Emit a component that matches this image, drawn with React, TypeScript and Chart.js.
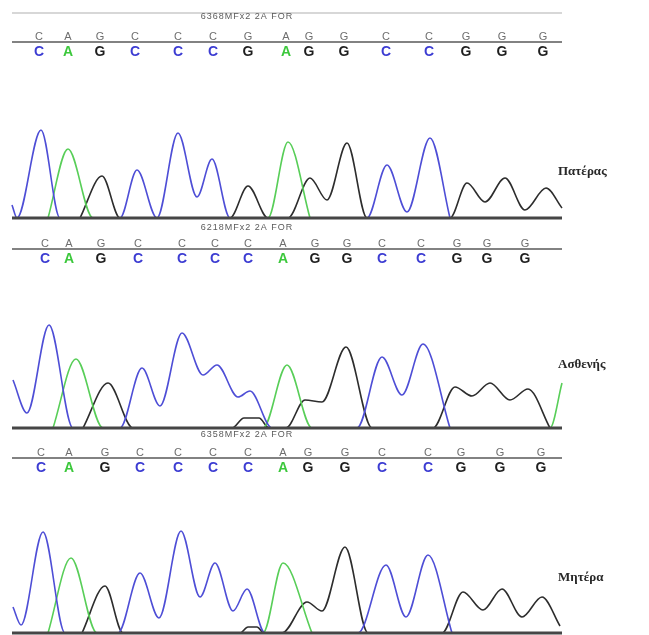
import React, { useEffect, useRef } from "react";
import { Chart, registerables } from "chart.js";

Chart.register(...registerables);

// ---- Base calls (letters) and their scan positions ----
const BASES_1 = ["C", "A", "G", "C", "C", "C", "G", "A", "G", "G", "C", "C", "G", "G", "G"];
const BASE_POS_1 = [39, 68, 100, 135, 178, 213, 248, 286, 309, 344, 386, 429, 466, 502, 543];
const BASES_2 = ["C", "A", "G", "C", "C", "C", "C", "A", "G", "G", "C", "C", "G", "G", "G"];
const BASE_POS_2 = [45, 69, 101, 138, 182, 215, 248, 283, 315, 347, 382, 421, 457, 487, 525];
const BASES_3 = ["C", "A", "G", "C", "C", "C", "C", "A", "G", "G", "C", "C", "G", "G", "G"];
const BASE_POS_3 = [41, 69, 105, 140, 178, 213, 248, 283, 308, 345, 382, 428, 461, 500, 541];

const TITLES = ["6368MFx2 2A FOR", "6218MFx2 2A FOR", "6358MFx2 2A FOR"];
const LABELS = ["Πατέρας", "Ασθενής", "Μητέρα"];

// ---- Trace signals: [scan, intensity] at peaks / troughs ----
const P1_BLUE: [number, number][] = [
  [12, 13], [17, 0], [41, 88], [60, 0], [120, 0], [137, 48], [157, 0], [178, 85], [197, 21],
  [212, 59], [230, 0], [367, 0], [387, 53], [407, 6], [430, 80], [450, 0],
];
const P1_GREEN: [number, number][] = [
  [48, 0], [68, 69], [93, 0], [268, 0], [288, 76], [310, 0],
];
const P1_BLACK: [number, number][] = [
  [80, 0], [102, 42], [120, 0], [230, 0], [248, 32], [268, 0], [288, 0], [310, 40], [327, 18],
  [347, 75], [367, 0], [450, 0], [467, 35], [485, 16], [505, 40], [525, 8], [546, 30], [562, 10],
];

const P2_BLUE: [number, number][] = [
  [13, 48], [27, 15], [49, 103], [73, 0], [120, 0], [142, 60], [160, 22], [182, 95], [203, 53],
  [217, 63], [238, 31], [250, 37], [272, 0], [357, 0], [382, 71], [402, 33], [423, 84], [450, 0],
];
const P2_GREEN: [number, number][] = [
  [53, 0], [76, 69], [103, 0], [263, 0], [287, 63], [312, 0], [550, 0], [562, 45],
];
const P2_BLACK: [number, number][] = [
  [83, 0], [108, 45], [133, 0], [232, 0], [244, 10], [259, 10], [269, 0], [286, 0], [305, 28],
  [322, 26], [346, 81], [372, 0], [433, 0], [455, 41], [472, 32], [490, 45], [510, 28], [528, 39],
  [550, 0],
];

const P3_BLUE: [number, number][] = [
  [13, 26], [21, 8], [43, 101], [65, 0], [118, 0], [140, 60], [159, 15], [181, 102], [200, 36],
  [215, 70], [233, 22], [247, 44], [265, 0], [358, 0], [386, 68], [406, 16], [428, 78], [452, 0],
];
const P3_GREEN: [number, number][] = [
  [48, 0], [71, 75], [97, 0], [263, 0], [283, 70], [312, 0],
];
const P3_BLACK: [number, number][] = [
  [82, 0], [105, 47], [123, 0], [240, 0], [248, 6], [257, 6], [264, 0], [282, 0], [307, 31],
  [322, 22], [345, 86], [368, 0], [442, 0], [463, 41], [483, 23], [502, 44], [522, 16], [542, 36],
  [560, 7],
];

// ---- styling ----
const BLUE = "rgb(78,78,214)";
const GREEN = "rgb(88,206,88)";
const BLACK = "rgb(45,45,45)";
const BASE_COLORS: Record<string, string> = { C: "rgb(60,60,210)", A: "rgb(60,200,60)", G: "rgb(30,30,30)" };

const X_MIN = 12;
const X_MAX = 562;
const Y_MAX = 118;
const W = 649;

interface PanelCfg {
  top: number;
  height: number;
  baseLocal: number;
  lineLocal: number;
  titleLocal: number;
  headerLocal: number | null;
  labelLocal: number;
  title: string;
  label: string;
  bases: string[];
  basePos: number[];
  blue: [number, number][];
  green: [number, number][];
  black: [number, number][];
}

const PANELS: PanelCfg[] = [
  {
    top: 0, height: 222, baseLocal: 218, lineLocal: 42, titleLocal: 17, headerLocal: 13, labelLocal: 172,
    title: TITLES[0], label: LABELS[0], bases: BASES_1, basePos: BASE_POS_1,
    blue: P1_BLUE, green: P1_GREEN, black: P1_BLACK,
  },
  {
    top: 222, height: 210, baseLocal: 206, lineLocal: 27, titleLocal: 6, headerLocal: null, labelLocal: 143,
    title: TITLES[1], label: LABELS[1], bases: BASES_2, basePos: BASE_POS_2,
    blue: P2_BLUE, green: P2_GREEN, black: P2_BLACK,
  },
  {
    top: 428, height: 207, baseLocal: 205, lineLocal: 30, titleLocal: 7, headerLocal: null, labelLocal: 150,
    title: TITLES[2], label: LABELS[2], bases: BASES_3, basePos: BASE_POS_3,
    blue: P3_BLUE, green: P3_GREEN, black: P3_BLACK,
  },
];

function ds(points: [number, number][], color: string) {
  return {
    data: points.map(([x, y]) => ({ x, y })),
    borderColor: color,
    borderWidth: 1.6,
    pointRadius: 0,
    fill: false,
    cubicInterpolationMode: "monotone" as const,
    clip: false as any,
  };
}

function decorPlugin(cfg: PanelCfg) {
  return {
    id: "decor",
    afterDatasetsDraw(chart: any) {
      const { ctx, chartArea, scales } = chart;
      const xs = scales.x;
      const ys = scales.y;
      const left = xs.getPixelForValue(X_MIN);
      const right = xs.getPixelForValue(X_MAX);
      ctx.save();
      // baseline
      ctx.strokeStyle = "rgb(70,70,70)";
      ctx.lineWidth = 3;
      ctx.beginPath();
      const by = ys.getPixelForValue(0);
      ctx.moveTo(left, by);
      ctx.lineTo(right, by);
      ctx.stroke();
      // header line
      if (cfg.headerLocal !== null) {
        ctx.strokeStyle = "rgb(215,215,215)";
        ctx.lineWidth = 2;
        ctx.beginPath();
        ctx.moveTo(left, cfg.headerLocal);
        ctx.lineTo(right, cfg.headerLocal);
        ctx.stroke();
      }
      // title
      ctx.fillStyle = "rgb(90,90,90)";
      ctx.font = "9px 'Liberation Sans', Arial, sans-serif";
      try { (ctx as any).letterSpacing = "1px"; } catch (e) { /* ignore */ }
      ctx.textAlign = "center";
      ctx.textBaseline = "middle";
      ctx.fillText(cfg.title, xs.getPixelForValue(247), cfg.titleLocal);
      try { (ctx as any).letterSpacing = "0px"; } catch (e) { /* ignore */ }
      // base line
      ctx.strokeStyle = "rgb(130,130,130)";
      ctx.lineWidth = 2;
      ctx.beginPath();
      ctx.moveTo(left, cfg.lineLocal);
      ctx.lineTo(right, cfg.lineLocal);
      ctx.stroke();
      // letters
      cfg.bases.forEach((b, i) => {
        const px = xs.getPixelForValue(cfg.basePos[i]);
        ctx.textAlign = "center";
        ctx.textBaseline = "alphabetic";
        ctx.fillStyle = "rgb(110,110,110)";
        ctx.font = "11px 'Liberation Sans', Arial, sans-serif";
        ctx.fillText(b, px, cfg.lineLocal - 2);
        ctx.fillStyle = BASE_COLORS[b];
        ctx.font = "bold 14px 'Liberation Sans', Arial, sans-serif";
        ctx.fillText(b, px, cfg.lineLocal + 14);
      });
      // label
      ctx.fillStyle = "rgb(40,40,40)";
      ctx.font = "bold 13px 'Liberation Serif', 'Times New Roman', serif";
      ctx.textAlign = "left";
      ctx.textBaseline = "middle";
      ctx.fillText(cfg.label, chartArea.right - 4, cfg.labelLocal);
      ctx.restore();
    },
  };
}

function Panel({ cfg }: { cfg: PanelCfg }) {
  const ref = useRef<HTMLCanvasElement>(null);
  useEffect(() => {
    const canvas = ref.current;
    if (!canvas) return;
    const chart = new Chart(canvas, {
      type: "line",
      data: {
        datasets: [ds(cfg.blue, BLUE), ds(cfg.green, GREEN), ds(cfg.black, BLACK)] as any,
      },
      options: {
        responsive: false,
        animation: false,
        events: [],
        layout: {
          padding: {
            left: X_MIN,
            right: W - X_MAX,
            top: cfg.baseLocal - Y_MAX,
            bottom: cfg.height - cfg.baseLocal,
          },
        },
        scales: {
          x: { type: "linear", min: X_MIN, max: X_MAX, display: false },
          y: { type: "linear", min: 0, max: Y_MAX, display: false },
        },
        plugins: { legend: { display: false }, tooltip: { enabled: false } },
      },
      plugins: [decorPlugin(cfg)],
    });
    return () => chart.destroy();
  }, [cfg]);
  return (
    <canvas
      ref={ref}
      width={W}
      height={cfg.height}
      style={{ position: "absolute", left: 0, top: cfg.top, width: W, height: cfg.height }}
    />
  );
}

export default function App() {
  return (
    <div style={{ position: "absolute", left: 0, top: 0, width: W, height: 635, background: "#fff", overflow: "hidden" }}>
      {PANELS.map((p, i) => (
        <Panel key={i} cfg={p} />
      ))}
    </div>
  );
}
